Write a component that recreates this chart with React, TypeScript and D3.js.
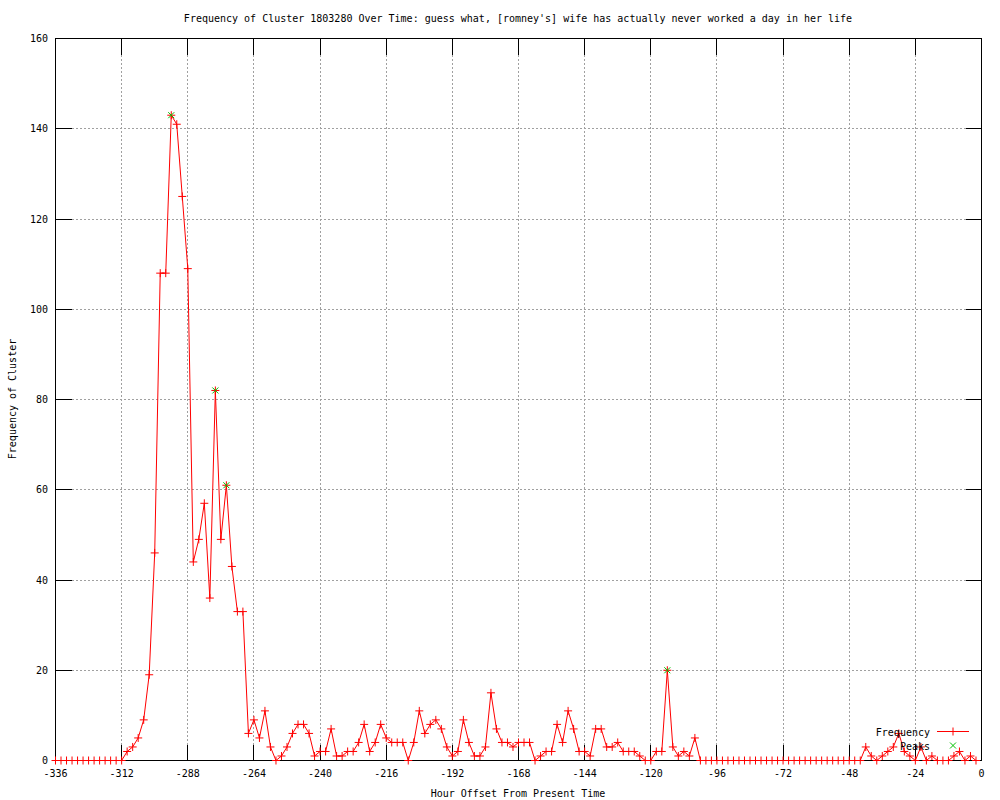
import React from "react";
import * as d3 from "d3";

const title =
  "Frequency of Cluster 1803280 Over Time: guess what, [romney's] wife has actually never worked a day in her life";
const xLabel = "Hour Offset From Present Time";
const yLabel = "Frequency of Cluster";

const xTicks = [-336, -312, -288, -264, -240, -216, -192, -168, -144, -120, -96, -72, -48, -24, 0];
const yTicks = [0, 20, 40, 60, 80, 100, 120, 140, 160];

// hours -336 .. -2, every 2 hours
const hours = d3.range(-336, 0, 2);
const frequency = [
  0, 0, 0, 0, 0, 0, 0, 0, 0, 0, 0, 0, 0, // -336..-312
  2, 3, 5, 9, 19, 46, 108, 108, 143, 141, 125, 109, // -310..-288
  44, 49, 57, 36, 82, 49, 61, 43, 33, 33, 6, 9, // -286..-264
  5, 11, 3, 0, 1, 3, 6, 8, 8, 6, 1, 2, // -262..-240
  2, 7, 1, 1, 2, 2, 4, 8, 2, 4, 8, 5, // -238..-216
  4, 4, 4, 0, 4, 11, 6, 8, 9, 7, 3, 1, // -214..-192
  2, 9, 4, 1, 1, 3, 15, 7, 4, 4, 3, 4, // -190..-168
  4, 4, 0, 1, 2, 2, 8, 4, 11, 7, 2, 2, // -166..-144
  1, 7, 7, 3, 3, 4, 2, 2, 2, 1, 0, 0, // -142..-120
  2, 2, 20, 3, 1, 2, 1, 5, 0, 0, 0, 0, // -118..-96
  0, 0, 0, 0, 0, 0, 0, 0, 0, 0, 0, 0, // -94..-72
  0, 0, 0, 0, 0, 0, 0, 0, 0, 0, 0, 0, // -70..-48
  0, 0, 3, 1, 0, 1, 2, 3, 6, 2, 1, 0, // -46..-24
  3, 0, 1, 0, 0, 0, 1, 2, 0, 1, 0, // -22..-2
];
const peakHours = [-294, -278, -274, -114];
const peakValues = [143, 82, 61, 20];

const FONT = "'DejaVu Sans Mono', monospace";

export default function App() {
  const left = 55.5, right = 981.5, top = 38.5, bottom = 760.5;
  const x = d3.scaleLinear().domain([-336, 0]).range([left, right]);
  const y = d3.scaleLinear().domain([0, 160]).range([bottom, top]);
  const pts: [number, number][] = hours.map((h, i) => [h, frequency[i]]);
  const line = d3
    .line<[number, number]>()
    .x((d) => x(d[0]))
    .y((d) => y(d[1]))(pts) as string;
  const tickLen = 16;
  const plus = (cx: number, cy: number, s: number, color: string, key: string) => (
    <path key={key} d={`M${cx - s},${cy}H${cx + s}M${cx},${cy - s}V${cy + s}`} stroke={color} strokeWidth={1} fill="none" />
  );
  const cross = (cx: number, cy: number, s: number, color: string, key: string) => (
    <path
      key={key}
      d={`M${cx - s},${cy - s}L${cx + s},${cy + s}M${cx - s},${cy + s}L${cx + s},${cy - s}`}
      stroke={color}
      strokeWidth={1}
      fill="none"
    />
  );
  return (
    <svg
      width={1000}
      height={800}
      style={{ position: "absolute", left: 0, top: 0, background: "#fff" }}
      fontFamily={FONT}
      fontSize={10}
    >
      <rect x={0} y={0} width={1000} height={800} fill="#fff" />
      {/* grid */}
      <g stroke="#a0a0a0" strokeDasharray="2,2" shapeRendering="crispEdges">
        {xTicks.slice(1, -1).map((t) => (
          <line key={"gx" + t} x1={x(t)} x2={x(t)} y1={top + tickLen} y2={bottom - tickLen} />
        ))}
        {yTicks.slice(1, -1).map((t) => (
          <line key={"gy" + t} x1={left + tickLen} x2={right - tickLen} y1={y(t)} y2={y(t)} />
        ))}
      </g>
      {/* ticks */}
      <g stroke="#000" shapeRendering="crispEdges">
        {xTicks.map((t) => (
          <g key={"tx" + t}>
            <line x1={x(t)} x2={x(t)} y1={bottom} y2={bottom - tickLen} />
            <line x1={x(t)} x2={x(t)} y1={top} y2={top + tickLen} />
          </g>
        ))}
        {yTicks.map((t) => (
          <g key={"ty" + t}>
            <line x1={left} x2={left + tickLen} y1={y(t)} y2={y(t)} />
            <line x1={right} x2={right - tickLen} y1={y(t)} y2={y(t)} />
          </g>
        ))}
        <rect x={left} y={top} width={right - left} height={bottom - top} fill="none" />
      </g>
      {/* tick labels */}
      {xTicks.map((t) => (
        <text key={"lx" + t} x={x(t)} y={777} textAnchor="middle">
          {t}
        </text>
      ))}
      {yTicks.map((t) => (
        <text key={"ly" + t} x={48} y={y(t) + 3.5} textAnchor="end">
          {t}
        </text>
      ))}
      {/* titles */}
      <text x={518} y={22} textAnchor="middle">
        {title}
      </text>
      <text x={518} y={797} textAnchor="middle">
        {xLabel}
      </text>
      <text transform={`translate(16,399) rotate(-90)`} textAnchor="middle">
        {yLabel}
      </text>
      {/* data line */}
      <path d={line} fill="none" stroke="#ff0000" strokeWidth={1} />
      {pts.map((d, i) => plus(x(d[0]), y(d[1]), 4, "#ff0000", "p" + i))}
      {peakHours.map((h, i) => cross(x(h), y(peakValues[i]), 3, "#00c000", "k" + i))}
      {/* legend */}
      <text x={930} y={735.5} textAnchor="end">
        Frequency
      </text>
      <line x1={937} x2={969} y1={731.5} y2={731.5} stroke="#ff0000" />
      {plus(953, 731.5, 4, "#ff0000", "lp")}
      <text x={930} y={749.5} textAnchor="end">
        Peaks
      </text>
      {cross(953, 745.5, 3, "#00c000", "lk")}
    </svg>
  );
}
